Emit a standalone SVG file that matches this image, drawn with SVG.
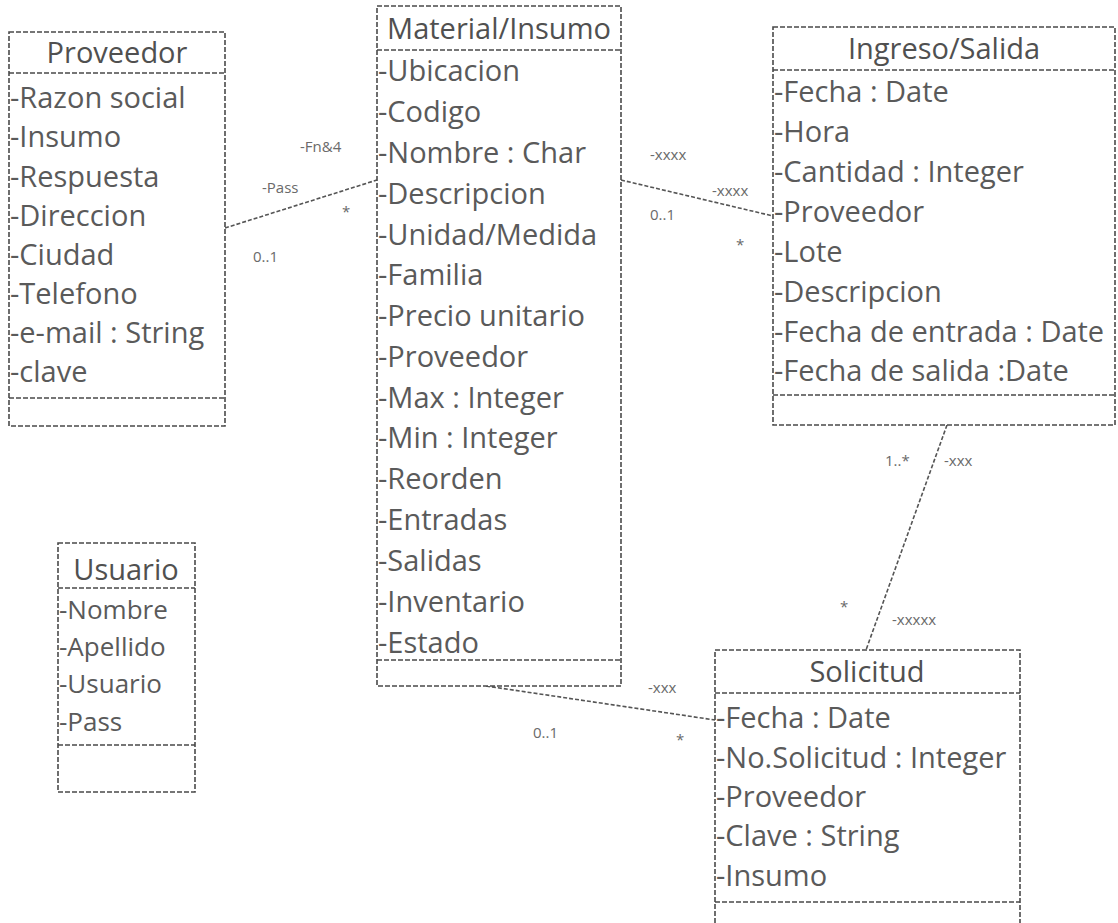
<svg xmlns="http://www.w3.org/2000/svg" width="1118" height="923" viewBox="0 0 1118 923">
  <style>
    .box { fill: #ffffff; stroke: #4a4a4a; stroke-width: 1.6; stroke-dasharray: 5 2; }
    .sep { stroke: #4a4a4a; stroke-width: 1.6; stroke-dasharray: 5 2; fill: none; }
    .title { font-family: "Open Sans", "Liberation Sans", sans-serif; font-size: 29px; fill: #505050; text-anchor: middle; }
    .attr { font-family: "Open Sans", "Liberation Sans", sans-serif; font-size: 29px; fill: #5a5a5a; }
    .small { font-size: 26px; }
    .conn { stroke: #555555; stroke-width: 1.6; stroke-dasharray: 4 2; fill: none; }
    .lbl { font-family: "Open Sans", "Liberation Sans", sans-serif; font-size: 15px; fill: #6a6a6a; }
  </style>
  <rect width="1118" height="923" fill="#ffffff"/>

  <!-- associations -->
  <g id="connectors">
    <line class="conn" x1="225" y1="228" x2="377" y2="180"/>
    <line class="conn" x1="621" y1="180" x2="773" y2="216"/>
    <line class="conn" x1="947" y1="425" x2="866" y2="650"/>
    <line class="conn" x1="486" y1="686" x2="715" y2="720"/>
    <text class="lbl" x="300" y="152">-Fn&amp;4</text>
    <text class="lbl" x="262" y="193">-Pass</text>
    <text class="lbl" x="342" y="217">*</text>
    <text class="lbl" x="253" y="262">0..1</text>
    <text class="lbl" x="650" y="160">-xxxx</text>
    <text class="lbl" x="712" y="196">-xxxx</text>
    <text class="lbl" x="650" y="220">0..1</text>
    <text class="lbl" x="736" y="250">*</text>
    <text class="lbl" x="885" y="466">1..*</text>
    <text class="lbl" x="944" y="466">-xxx</text>
    <text class="lbl" x="840" y="612">*</text>
    <text class="lbl" x="892" y="625">-xxxxx</text>
    <text class="lbl" x="534" y="663">-xxxx</text>
    <text class="lbl" x="648" y="693">-xxx</text>
    <text class="lbl" x="533" y="738">0..1</text>
    <text class="lbl" x="676" y="745">*</text>
  </g>

  <g id="proveedor">
    <rect class="box" x="9" y="32" width="216" height="394"/>
    <line class="sep" x1="9" y1="73" x2="225" y2="73"/>
    <line class="sep" x1="9" y1="398" x2="225" y2="398"/>
    <text class="title" x="117" y="63">Proveedor</text>
    <text class="attr" x="10" y="108">-Razon social</text>
    <text class="attr" x="10" y="147">-Insumo</text>
    <text class="attr" x="10" y="187">-Respuesta</text>
    <text class="attr" x="10" y="226">-Direccion</text>
    <text class="attr" x="10" y="265">-Ciudad</text>
    <text class="attr" x="10" y="304">-Telefono</text>
    <text class="attr" x="10" y="343">-e-mail : String</text>
    <text class="attr" x="10" y="382">-clave</text>
  </g>

  <g id="material">
    <rect class="box" x="377" y="6" width="244" height="680"/>
    <line class="sep" x1="377" y1="50" x2="621" y2="50"/>
    <line class="sep" x1="377" y1="660" x2="621" y2="660"/>
    <text class="title" x="499" y="39">Material/Insumo</text>
    <text class="attr" x="378" y="81">-Ubicacion</text>
    <text class="attr" x="378" y="122">-Codigo</text>
    <text class="attr" x="378" y="163">-Nombre : Char</text>
    <text class="attr" x="378" y="204">-Descripcion</text>
    <text class="attr" x="378" y="245">-Unidad/Medida</text>
    <text class="attr" x="378" y="285">-Familia</text>
    <text class="attr" x="378" y="326">-Precio unitario</text>
    <text class="attr" x="378" y="367">-Proveedor</text>
    <text class="attr" x="378" y="408">-Max : Integer</text>
    <text class="attr" x="378" y="448">-Min : Integer</text>
    <text class="attr" x="378" y="489">-Reorden</text>
    <text class="attr" x="378" y="530">-Entradas</text>
    <text class="attr" x="378" y="571">-Salidas</text>
    <text class="attr" x="378" y="612">-Inventario</text>
    <text class="attr" x="378" y="653">-Estado</text>
  </g>

  <g id="ingreso-salida">
    <rect class="box" x="773" y="27" width="342" height="398"/>
    <line class="sep" x1="773" y1="70" x2="1115" y2="70"/>
    <line class="sep" x1="773" y1="395" x2="1115" y2="395"/>
    <text class="title" x="944" y="59">Ingreso/Salida</text>
    <text class="attr" x="774" y="102">-Fecha : Date</text>
    <text class="attr" x="774" y="142">-Hora</text>
    <text class="attr" x="774" y="182">-Cantidad : Integer</text>
    <text class="attr" x="774" y="222">-Proveedor</text>
    <text class="attr" x="774" y="262">-Lote</text>
    <text class="attr" x="774" y="302">-Descripcion</text>
    <text class="attr" x="774" y="342">-Fecha de entrada : Date</text>
    <text class="attr" x="774" y="381">-Fecha de salida :Date</text>
  </g>

  <g id="usuario">
    <rect class="box" x="58" y="543" width="137" height="249"/>
    <line class="sep" x1="58" y1="588" x2="195" y2="588"/>
    <line class="sep" x1="58" y1="745" x2="195" y2="745"/>
    <text class="title" x="126" y="580">Usuario</text>
    <text class="attr small" x="59" y="619">-Nombre</text>
    <text class="attr small" x="59" y="656">-Apellido</text>
    <text class="attr small" x="59" y="693">-Usuario</text>
    <text class="attr small" x="59" y="731">-Pass</text>
  </g>

  <g id="solicitud">
    <rect class="box" x="715" y="650" width="305" height="290"/>
    <line class="sep" x1="715" y1="693" x2="1020" y2="693"/>
    <line class="sep" x1="715" y1="902" x2="1020" y2="902"/>
    <text class="title" x="867" y="682">Solicitud</text>
    <text class="attr" x="716" y="728">-Fecha : Date</text>
    <text class="attr" x="716" y="768">-No.Solicitud : Integer</text>
    <text class="attr" x="716" y="807">-Proveedor</text>
    <text class="attr" x="716" y="846">-Clave : String</text>
    <text class="attr" x="716" y="886">-Insumo</text>
  </g>
</svg>
